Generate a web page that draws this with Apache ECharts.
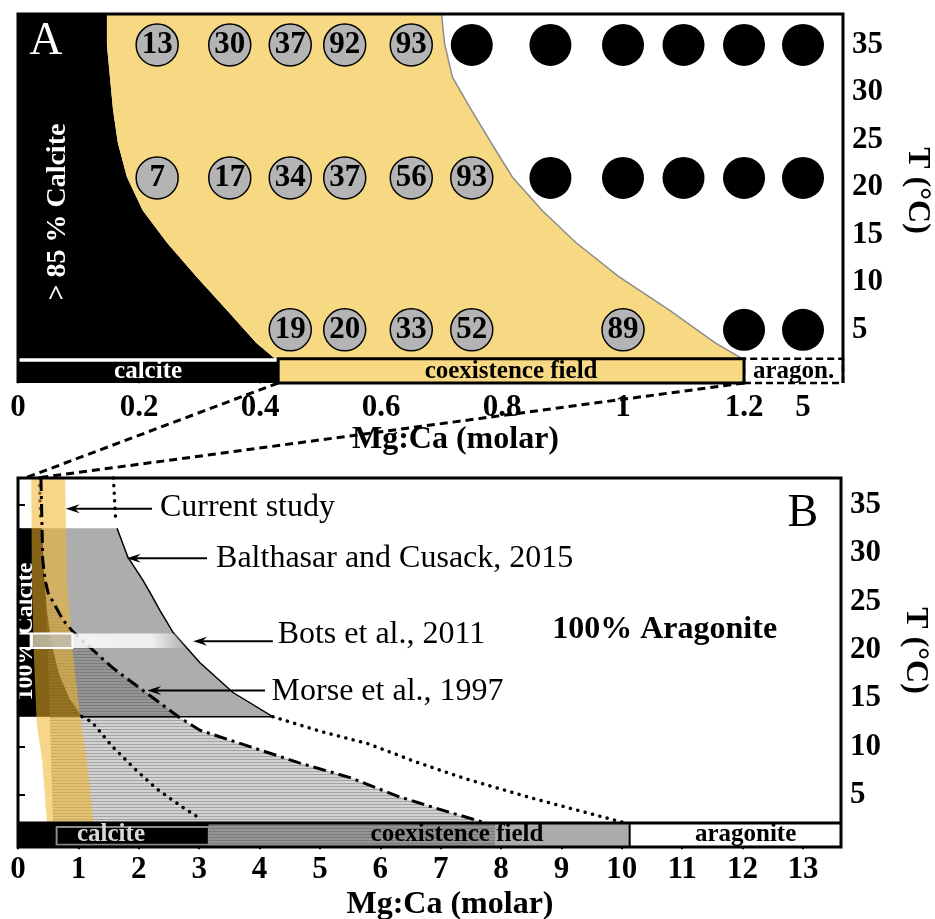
<!DOCTYPE html>
<html><head><meta charset="utf-8">
<script src="https://cdn.jsdelivr.net/npm/echarts@6/dist/echarts.min.js"></script>
<style>html,body{margin:0;padding:0;background:#fff}#c{width:935px;height:919px}</style>
</head><body><div id="c"></div>
<script>
// ================= DATA =================
// ---- Panel A ----
const xTicksA = [0, 0.2, 0.4, 0.6, 0.8, 1, 1.2, 5];
const tempTicks = [5, 10, 15, 20, 25, 30, 35];
const rowTemps = [35, 21, 5];
const gray35X = [0.23, 0.35, 0.45, 0.54, 0.65];
const gray35Pct = [13, 30, 37, 92, 93];
const black35X = [0.75, 0.88, 1.0, 1.1, 1.2, 5];
const gray21X = [0.23, 0.35, 0.45, 0.54, 0.65, 0.75];
const gray21Pct = [7, 17, 34, 37, 56, 93];
const black21X = [0.88, 1.0, 1.1, 1.2, 5];
const gray5X = [0.45, 0.54, 0.65, 0.75, 1.0];
const gray5Pct = [19, 20, 33, 52, 89];
const black5X = [1.2, 5];
// calcite / coexistence boundary (A)
const calcLimAX = [0.147, 0.147, 0.152, 0.157, 0.165, 0.180, 0.206, 0.246, 0.295, 0.345, 0.394, 0.424];
const calcLimAT = [38.26, 35, 31.6, 28.2, 24.7, 21.1, 17.6, 14.2, 10.6, 7.1, 3.6, 2.0];
// coexistence / aragonite boundary (A)
const aragLimAX = [0.700, 0.705, 0.718, 0.749, 0.782, 0.817, 0.866, 0.922, 0.993, 1.076, 1.153, 1.195, 1.2];
const aragLimAT = [38.26, 35.2, 31.6, 28.2, 24.7, 21.1, 17.6, 14.2, 10.6, 7.1, 3.6, 2.05, 1.9];
const stripABounds = [0, 0.43, 1.2];
const stripALabels = ['calcite', 'coexistence field', 'aragon.'];

// ---- Panel B ----
const xTicksB = [0, 1, 2, 3, 4, 5, 6, 7, 8, 9, 10, 11, 12, 13];
// Balthasar and Cusack, 2015
const balTRange = [13.1, 32.6];
const balAragX = [1.64, 1.82, 2.07, 2.19, 2.35, 2.57, 3.01, 3.56, 4.22];
const balAragT = [32.6, 29.6, 27.2, 25.9, 24.1, 21.8, 18.7, 15.6, 13.1];
const balAragTopX = [1.58, 1.62];
const balAragTopT = [37.79, 33.2];
const balAragExtX = [4.22, 5.0, 5.8, 6.6, 7.4, 8.5, 10.0];
const balAragExtT = [13.1, 11.6, 10.3, 8.4, 6.7, 4.7, 2.2];
const balCalX = [0.40, 0.43, 0.48, 0.56, 0.68, 0.85, 1.06];
const balCalT = [32.6, 28.0, 24.0, 20.5, 17.5, 15.0, 13.1];
const balCalTopX = [0.355, 0.375];
const balCalTopT = [37.79, 33.2];
const balCalExtX = [1.06, 1.225, 1.556, 1.92, 2.30, 2.72, 3.0];
const balCalExtT = [13.1, 12.55, 10.07, 7.79, 5.62, 3.76, 2.62];
// Morse et al., 1997
const morseAragX = [0.38, 0.41, 0.45, 0.50, 0.745, 0.91, 1.24, 1.56, 1.77, 2.68, 3.01, 3.84, 4.67, 5.50, 6.32, 7.15, 7.70];
const morseAragT = [37.79, 29.3, 27.2, 25.9, 23.1, 21.9, 20.0, 18.2, 17.2, 13.0, 11.7, 10.0, 8.3, 6.8, 4.8, 3.2, 2.2];
const morseCalX = [0.45, 0.53, 0.58];
const morseCalT = [27.2, 12.4, 2.1];
// Bots et al., 2011
const botsTRange = [20.2, 21.7];
const botsBounds = [0, 0.21, 0.23, 0.90, 2.8];
// Current study band in B
const bandLX = [0.22, 0.23, 0.26, 0.31, 0.40, 0.48];
const bandLT = [37.79, 27.2, 20.0, 12.4, 8.6, 2.1];
const bandRX = [0.78, 0.81, 0.90, 1.04, 1.14, 1.25];
const bandRT = [37.79, 27.2, 20.0, 12.6, 8.6, 2.1];
const stripBBounds = [0, 0.64, 3.16, 7.9, 10.13];
const stripBLabels = ['calcite', 'coexistence field', 'aragonite'];

// ================= LAYOUT / STYLE =================
const SERIF = '"Liberation Serif", "Times New Roman", serif';
const F = (w, s) => w + ' ' + s + 'px ' + SERIF;
const YEL = '#f8d983';
const A_MIN = -0.6, A_MAX = 38.26, A_XMAX = 1.3636, BREAK_AT = 1.2, BREAK_POS = 1.2975;
const B_MIN = -0.38, B_MAX = 37.79, B_XMAX = 13.63;
const STRIP_A_TOP = 1.95, STRIP_B_TOP = 2.1;
const mapX = v => (v > BREAK_AT ? BREAK_POS : v);
const xTickPosA = xTicksA.map(mapX);

const zip = (xs, ts) => xs.map((x, i) => [x, ts[i]]);
function shapes(gi, z, build) {
  return {type: 'custom', coordinateSystem: 'cartesian2d', xAxisIndex: gi, yAxisIndex: gi, z: z,
    silent: true, clip: false, data: [[0, 0]],
    renderItem: (params, api) => ({type: 'group', children: build(p => api.coord(p))})};
}
const poly = (c, pts, style) => ({type: 'polygon', shape: {points: pts.map(c)}, style: style});
const pline = (c, pts, style) => ({type: 'polyline', shape: {points: pts.map(c)}, style: Object.assign({fill: null}, style)});
const box = (c, x0, x1, y0, y1, style) => poly(c, [[x0, y0], [x1, y0], [x1, y1], [x0, y1]], style);
function label(c, pos, text, font, fill, rot, align) {
  const p = c(pos);
  return {type: 'text', x: p[0], y: p[1], rotation: rot || 0,
    style: {text: text, font: font, fill: fill, align: align || 'center', verticalAlign: 'middle'}};
}
function arrowTo(c, tip, tailX) {
  const a = c(tip), b = c([tailX, tip[1]]);
  const L = 14, W = 4.5;
  return [
    {type: 'line', shape: {x1: b[0], y1: a[1], x2: a[0] + L * 0.6, y2: a[1]}, style: {stroke: '#000', lineWidth: 2}},
    {type: 'polygon', shape: {points: [[a[0], a[1]], [a[0] + L, a[1] - W], [a[0] + L * 0.65, a[1]], [a[0] + L, a[1] + W]]}, style: {fill: '#000'}}
  ];
}
function makeHatch() {
  const cv = document.createElement('canvas'); cv.width = 4; cv.height = 3;
  const g = cv.getContext('2d');
  g.fillStyle = 'rgba(80,80,80,0.52)'; g.fillRect(0, 0, 4, 1);
  g.fillStyle = 'rgba(80,80,80,0.26)'; g.fillRect(0, 1, 4, 2);
  return cv;
}
const HATCH = {image: makeHatch(), repeat: 'repeat'};

function xAxisCfg(gi, max, ticks, fmt, gap, padLeft, margin) {
  return {gridIndex: gi, type: 'value', min: 0, max: max,
    axisLine: {show: false}, splitLine: {show: false},
    axisTick: {show: true, customValues: ticks, length: 6, lineStyle: {color: '#000', width: 2}},
    axisLabel: {customValues: ticks, formatter: fmt, margin: margin, color: '#000', fontSize: 31, fontWeight: 'bold', fontFamily: SERIF},
    name: 'Mg:Ca (molar)', nameLocation: 'middle', nameGap: gap,
    nameTextStyle: {color: '#000', fontSize: 32, fontWeight: 'bold', fontFamily: SERIF, padding: [0, 0, 0, padLeft]}};
}
function yAxisCfg(gi, min, max, padRight) {
  return {gridIndex: gi, type: 'value', position: 'right', min: min, max: max,
    axisLine: {show: false}, splitLine: {show: false},
    axisTick: {show: true, customValues: tempTicks, length: 7, lineStyle: {color: '#000', width: 2}},
    axisLabel: {customValues: tempTicks, margin: 9, color: '#000', fontSize: 31, fontWeight: 'bold', fontFamily: SERIF},
    name: 'T (°C)', nameLocation: 'middle', nameRotate: -90, nameGap: 58,
    nameTextStyle: {color: '#000', fontSize: 32, fontWeight: 'bold', fontFamily: SERIF, padding: [0, padRight, 0, 0]}};
}
const fmtA = v => { const i = xTickPosA.findIndex(t => Math.abs(t - v) < 1e-6); return i >= 0 ? String(xTicksA[i]) : ''; };

// scatter data for A
const grayPts = [], blackPts = [];
[[gray35X, gray35Pct], [gray21X, gray21Pct], [gray5X, gray5Pct]].forEach((r, k) =>
  r[0].forEach((x, i) => grayPts.push([mapX(x), rowTemps[k], r[1][i]])));
[black35X, black21X, black5X].forEach((r, k) => r.forEach(x => blackPts.push([mapX(x), rowTemps[k]])));

// ---------- Panel A shapes ----------
const seriesA = shapes(0, 1, c => {
  const calc = zip(calcLimAX, calcLimAT), arag = zip(aragLimAX, aragLimAT);
  const out = [];
  out.push(poly(c, [[0, A_MAX]].concat(calc, [[0, calc[calc.length - 1][1]]]), {fill: '#000'}));
  out.push(poly(c, calc.concat([[stripABounds[1], 1.9]], arag.slice().reverse()), {fill: YEL}));
  out.push(pline(c, arag, {stroke: '#8c8c8c', lineWidth: 1.5}));
  out.push(box(c, stripABounds[0], stripABounds[1], A_MIN, 1.65, {fill: '#000'}));
  out.push(box(c, stripABounds[2], A_XMAX, A_MIN, STRIP_A_TOP, {fill: '#fff', stroke: '#000', lineWidth: 2.5, lineDash: [7, 4]}));
  out.push(box(c, stripABounds[1], stripABounds[2], A_MIN, STRIP_A_TOP, {fill: YEL, stroke: '#000', lineWidth: 3}));
  out.push(pline(c, [[0, A_MIN], [0, A_MAX], [A_XMAX, A_MAX], [A_XMAX, A_MIN]], {stroke: '#000', lineWidth: 3}));
  return out;
});
const textA = shapes(0, 12, c => {
  const mid = 0.58;
  return [
    label(c, [0.046, 35.3], 'A', F('normal', 46), '#fff'),
    label(c, [0.066, 17.4], '> 85 % Calcite', F('bold', 28), '#fff', Math.PI / 2),
    label(c, [(stripABounds[0] + stripABounds[1]) / 2, mid], stripALabels[0], F('bold', 25), '#fff'),
    label(c, [(stripABounds[1] + stripABounds[2]) / 2, mid], stripALabels[1], F('bold', 25), '#000'),
    label(c, [(stripABounds[2] + A_XMAX) / 2, mid], stripALabels[2], F('bold', 25), '#000')
  ];
});

// ---------- Panel B shapes ----------
const seriesB = shapes(1, 1, c => {
  const out = [];
  const balArag = zip(balAragX, balAragT), balCal = zip(balCalX, balCalT);
  const morseArag = zip(morseAragX, morseAragT), morseCal = zip(morseCalX, morseCalT);
  const [tLo, tHi] = balTRange;
  // Balthasar coexistence (grey) and calcite (black)
  out.push(poly(c, [[0, tHi]].concat(balArag, [[0, tLo]]), {fill: '#adadad'}));
  out.push(poly(c, [[0, tHi]].concat(balCal, [[0, tLo]]), {fill: '#000'}));
  out.push(label(c, [0.13, 21.9], '100% Calcite', F('bold', 24), '#fff', Math.PI / 2));
  // Morse hatched coexistence field
  const mSub = morseArag.filter(p => p[1] <= morseCal[0][1]);
  out.push(poly(c, morseCal.concat(mSub.slice().reverse()), {fill: HATCH}));
  // Balthasar outline + dotted extrapolations
  out.push(pline(c, balArag.concat([balCal[balCal.length - 1]]), {stroke: '#000', lineWidth: 1.5}));
  const dot = {stroke: '#000', lineWidth: 3.5, lineDash: [0.1, 7.5], lineCap: 'round'};
  out.push(pline(c, zip(balAragTopX, balAragTopT), dot));
  out.push(pline(c, zip(balAragExtX, balAragExtT), dot));
  out.push(pline(c, zip(balCalTopX, balCalTopT), dot));
  out.push(pline(c, zip(balCalExtX, balCalExtT), dot));
  // current study band
  out.push(poly(c, zip(bandLX, bandLT).concat(zip(bandRX, bandRT).reverse()), {fill: 'rgba(240,180,40,0.55)'}));
  // Morse dash-dot line
  out.push(pline(c, morseArag, {stroke: '#000', lineWidth: 3, lineDash: [13, 5, 3, 5]}));
  // Bots band
  const [b0, b1] = botsTRange;
  out.push(box(c, botsBounds[3], botsBounds[4], b0, b1, {fill: new echarts.graphic.LinearGradient(0, 0, 1, 0, [
    {offset: 0, color: 'rgba(255,255,255,0.85)'}, {offset: 0.7, color: 'rgba(255,255,255,0.8)'}, {offset: 1, color: 'rgba(255,255,255,0)'}])}));
  out.push(box(c, botsBounds[0], botsBounds[1], b0, b1, {fill: '#000', stroke: '#fff', lineWidth: 2}));
  out.push(box(c, botsBounds[2], botsBounds[3], b0, b1, {fill: 'rgba(195,190,175,0.82)', stroke: '#fff', lineWidth: 2}));
  // strip
  const s = stripBBounds;
  out.push(box(c, s[0], s[2], B_MIN, STRIP_B_TOP, {fill: '#000'}));
  out.push(box(c, s[1], s[2], -0.15, 1.7, {fill: '#000', stroke: '#8a8a8a', lineWidth: 2}));
  out.push(box(c, s[2], s[4], B_MIN, STRIP_B_TOP, {fill: '#ababab'}));
  out.push(box(c, s[2], s[3], B_MIN, STRIP_B_TOP, {fill: HATCH}));
  out.push(box(c, s[4], B_XMAX, B_MIN, STRIP_B_TOP, {fill: '#fff', stroke: '#000', lineWidth: 2}));
  out.push(pline(c, [[0, STRIP_B_TOP], [B_XMAX, STRIP_B_TOP]], {stroke: '#000', lineWidth: 3}));
  out.push(label(c, [1.54, 0.86], stripBLabels[0], F('bold', 25), '#d9d9d9'));
  out.push(label(c, [7.27, 0.86], stripBLabels[1], F('bold', 25), '#000'));
  out.push(label(c, [12.05, 0.86], stripBLabels[2], F('bold', 25), '#000'));
  // annotations
  const ann = F('normal', 32);
  out.push(...arrowTo(c, [0.79, 34.6], 2.22));
  out.push(label(c, [2.35, 34.7], 'Current study', ann, '#000', 0, 'left'));
  out.push(...arrowTo(c, [1.80, 29.5], 3.13));
  out.push(label(c, [3.28, 29.5], 'Balthasar and Cusack, 2015', ann, '#000', 0, 'left'));
  out.push(...arrowTo(c, [2.90, 20.9], 4.22));
  out.push(label(c, [4.30, 21.6], 'Bots et al., 2011', ann, '#000', 0, 'left'));
  out.push(...arrowTo(c, [2.14, 15.8], 4.09));
  out.push(label(c, [4.20, 15.7], 'Morse et al., 1997', ann, '#000', 0, 'left'));
  out.push(label(c, [10.71, 22.07], '100% Aragonite', F('bold', 32), '#000'));
  out.push(label(c, [13.0, 34.07], 'B', F('normal', 46), '#000'));
  // frame
  out.push(box(c, 0, B_XMAX, B_MIN, B_MAX, {fill: null, stroke: '#000', lineWidth: 3}));
  return out;
});

const chart = echarts.init(document.getElementById('c'), null, {renderer: 'canvas', width: 935, height: 919});
chart.setOption({
  animation: false,
  backgroundColor: '#fff',
  grid: [
    {left: 18, top: 14, width: 825, height: 369, outerBoundsMode: 'none'},
    {left: 18, top: 478, width: 823, height: 369, outerBoundsMode: 'none'}
  ],
  xAxis: [
    xAxisCfg(0, A_XMAX, xTickPosA, fmtA, 40, 50, 9),
    xAxisCfg(1, B_XMAX, xTicksB, v => String(v), 42, 41, 7)
  ],
  yAxis: [yAxisCfg(0, A_MIN, A_MAX, 16), yAxisCfg(1, B_MIN, B_MAX, 24)],
  series: [
    seriesA,
    {type: 'scatter', xAxisIndex: 0, yAxisIndex: 0, z: 10, silent: true, symbol: 'circle', symbolSize: 42,
      data: blackPts, itemStyle: {color: '#000', opacity: 1}},
    {type: 'scatter', xAxisIndex: 0, yAxisIndex: 0, z: 10, silent: true, symbol: 'circle', symbolSize: 42,
      data: grayPts, itemStyle: {color: '#b4b4b4', borderColor: '#000', borderWidth: 1.5, opacity: 1},
      label: {show: true, position: 'inside', formatter: p => String(p.value[2]), color: '#000',
        fontSize: 31, fontWeight: 'bold', fontFamily: SERIF, textBorderWidth: 0}},
    textA,
    seriesB
  ]
});

// dashed connectors from panel A's strip to panel B
const connA = [0.43, 1.2];
const connB = [0.12, 0.31];
const gfx = connA.map((xa, i) => {
  const p0 = chart.convertToPixel({gridIndex: 0}, [xa, A_MIN]);
  const p1 = chart.convertToPixel({gridIndex: 1}, [connB[i], B_MAX]);
  return {type: 'line', z: 100, shape: {x1: p0[0], y1: p0[1], x2: p1[0], y2: p1[1]},
    style: {stroke: '#000', lineWidth: 3, lineDash: [8, 5]}};
});
chart.setOption({graphic: gfx});
</script>
</body></html>
